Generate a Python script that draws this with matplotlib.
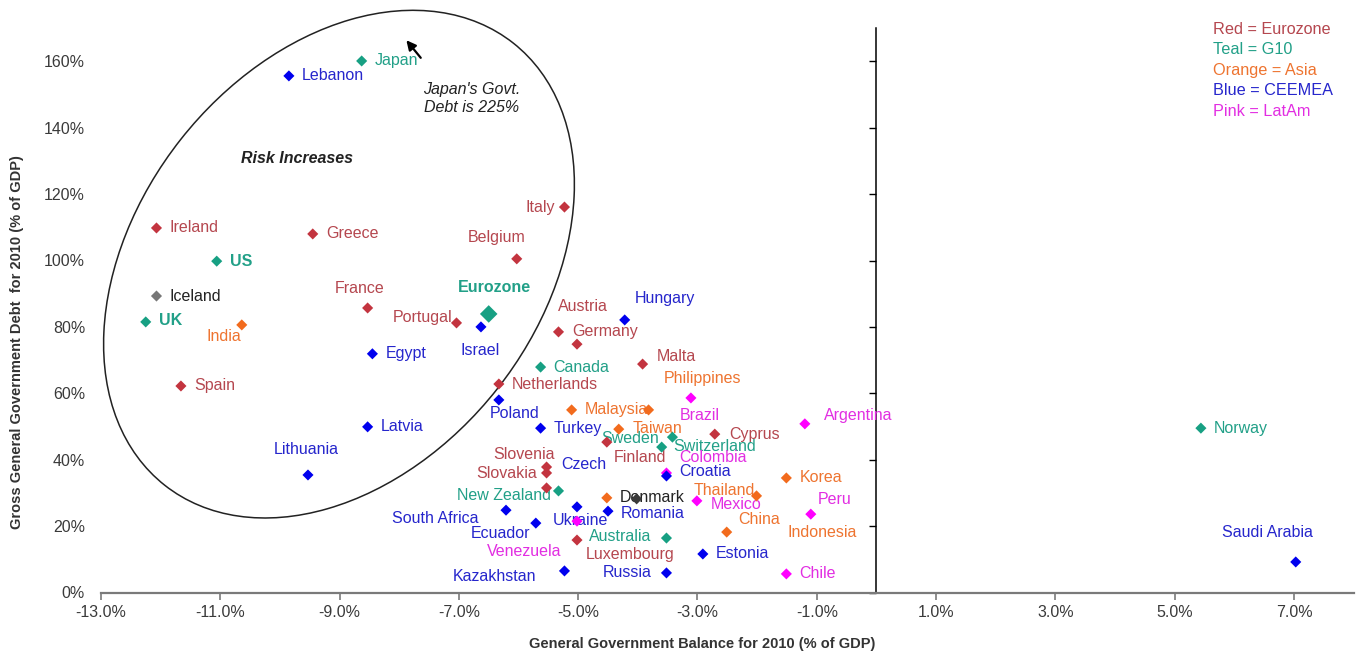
import matplotlib
matplotlib.use("Agg")
import matplotlib.pyplot as plt
from matplotlib.patches import Ellipse
from matplotlib.transforms import ScaledTranslation
import numpy as np

plt.rcParams['font.family'] = ['Liberation Sans', 'DejaVu Sans']

# ---- data ----
countries = ['Japan', 'Lebanon', 'Ireland', 'Greece', 'US', 'Iceland', 'UK', 'India',
             'France', 'Portugal', 'Eurozone', 'Israel', 'Egypt', 'Spain', 'Latvia',
             'Lithuania', 'Italy', 'Belgium', 'Hungary', 'Germany', 'Austria', 'Malta',
             'Canada', 'Netherlands', 'Poland', 'Philippines', 'Malaysia', 'Brazil',
             'Turkey', 'Taiwan', 'Argentina', 'Norway', 'Cyprus', 'Sweden', 'Switzerland',
             'Finland', 'Colombia', 'Croatia', 'Slovenia', 'Slovakia', 'Czech',
             'New Zealand', 'Denmark', 'Indonesia', 'Thailand', 'Korea', 'Peru', 'Mexico',
             'China', 'Romania', 'Ukraine', 'Venezuela', 'South Africa', 'Ecuador',
             'Luxembourg', 'Australia', 'Estonia', 'Russia', 'Kazakhstan', 'Chile',
             'Saudi Arabia']

balance = [-8.63, -9.85, -12.07, -9.45, -11.06, -12.07, -12.25, -10.64,
           -8.53, -7.04, -6.50, -6.63, -8.45, -11.66, -8.53,
           -9.53, -5.23, -6.03, -4.22, -5.33, -5.02, -3.92,
           -5.63, -6.33, -6.33, -3.82, -5.11, -3.11,
           -5.63, -4.32, -1.20, 5.44, -2.71, -3.42, -3.60,
           -4.52, -3.52, -3.52, -5.53, -5.53, -5.53,
           -5.33, -4.02, -4.52, -2.01, -1.51, -1.10, -3.01,
           -2.51, -4.50, -5.02, -5.02, -6.21, -5.71,
           -5.02, -3.52, -2.91, -3.52, -5.23, -1.51,
           7.03]

debt = [160.1, 155.6, 109.8, 108.0, 99.8, 89.3, 81.5, 80.6,
        85.7, 81.2, 83.9, 80.0, 71.9, 62.2, 49.9,
        35.4, 116.1, 100.5, 82.1, 78.5, 74.8, 68.8,
        67.9, 62.8, 58.0, 55.0, 55.0, 58.6,
        49.5, 49.2, 50.8, 49.5, 47.7, 46.8, 43.8,
        45.3, 36.0, 35.1, 37.8, 36.0, 31.5,
        30.6, 28.2, 28.5, 29.1, 34.5, 23.6, 27.6,
        18.2, 24.5, 25.8, 21.5, 24.8, 20.9,
        15.8, 16.4, 11.6, 5.9, 6.5, 5.6,
        9.2]

group = ['G10', 'CEEMEA', 'Eurozone', 'Eurozone', 'G10', 'Other', 'G10', 'Asia',
         'Eurozone', 'Eurozone', 'G10', 'CEEMEA', 'CEEMEA', 'Eurozone', 'CEEMEA',
         'CEEMEA', 'Eurozone', 'Eurozone', 'CEEMEA', 'Eurozone', 'Eurozone', 'Eurozone',
         'G10', 'Eurozone', 'CEEMEA', 'Asia', 'Asia', 'LatAm',
         'CEEMEA', 'Asia', 'LatAm', 'G10', 'Eurozone', 'G10', 'G10',
         'Eurozone', 'LatAm', 'CEEMEA', 'Eurozone', 'Eurozone', 'CEEMEA',
         'G10', 'Other', 'Asia', 'Asia', 'Asia', 'LatAm', 'LatAm',
         'Asia', 'CEEMEA', 'CEEMEA', 'LatAm', 'CEEMEA', 'CEEMEA',
         'Eurozone', 'G10', 'CEEMEA', 'CEEMEA', 'CEEMEA', 'LatAm',
         'CEEMEA']

legend_lines = ['Red = Eurozone', 'Teal = G10', 'Orange = Asia', 'Blue = CEEMEA', 'Pink = LatAm']
legend_groups = ['Eurozone', 'G10', 'Asia', 'CEEMEA', 'LatAm']

yticks = list(range(0, 161, 20))
xticks = list(range(-13, 8, 2))

# ---- styles ----
marker_col = {'Eurozone': '#C3343F', 'G10': '#17A083', 'Asia': '#F26B1D',
              'CEEMEA': '#0000EE', 'LatAm': '#FF00FF', 'Other': '#777777'}
label_col = {'Eurozone': '#B5474F', 'G10': '#22A088', 'Asia': '#EE7430',
             'CEEMEA': '#2626CC', 'LatAm': '#E22EE2', 'Other': '#222222'}
marker_override = {'Czech': '#C3343F', 'Denmark': '#3A3A3A'}
bold_labels = ['US', 'UK', 'Eurozone']

# label placement: offset in pixels (right, up) and horizontal alignment
label_place = {
    'Japan': (13, 0, 'left'), 'Lebanon': (13, 0, 'left'), 'Ireland': (13, 0, 'left'),
    'Greece': (14, 0, 'left'), 'US': (13, 0, 'left'), 'Iceland': (13, 0, 'left'),
    'UK': (13, 1, 'left'), 'India': (-18, -12, 'center'), 'France': (-8, 19, 'center'),
    'Portugal': (-4, 5, 'right'), 'Eurozone': (6, 26, 'center'), 'Israel': (-1, -24, 'center'),
    'Egypt': (13, 0, 'left'), 'Spain': (13, 0, 'left'), 'Latvia': (13, 0, 'left'),
    'Lithuania': (-2, 25, 'center'), 'Italy': (-9, 0, 'right'), 'Belgium': (-20, 21, 'center'),
    'Hungary': (40, 21, 'center'), 'Germany': (14, 0, 'left'), 'Austria': (6, 38, 'center'),
    'Malta': (14, 8, 'left'), 'Canada': (13, 0, 'left'), 'Netherlands': (13, 0, 'left'),
    'Poland': (16, -14, 'center'), 'Philippines': (54, 31, 'center'), 'Malaysia': (13, 0, 'left'),
    'Brazil': (9, -18, 'center'), 'Turkey': (13, 0, 'left'), 'Taiwan': (14, 1, 'left'),
    'Argentina': (19, 8, 'left'), 'Norway': (13, 0, 'left'), 'Cyprus': (14, 0, 'left'),
    'Sweden': (-13, -1, 'right'), 'Switzerland': (12, 1, 'left'), 'Finland': (7, -15, 'left'),
    'Colombia': (13, 15, 'left'), 'Croatia': (13, 4, 'left'), 'Slovenia': (-23, 13, 'center'),
    'Slovakia': (-10, -1, 'right'), 'Czech': (15, 23, 'left'), 'New Zealand': (-7, -5, 'right'),
    'Denmark': (-17, 1, 'left'), 'Indonesia': (181, -35, 'left'), 'Thailand': (-2, 5, 'right'),
    'Korea': (13, 0, 'left'), 'Peru': (7, 15, 'left'), 'Mexico': (14, -4, 'left'),
    'China': (12, 13, 'left'), 'Romania': (13, -2, 'left'), 'Ukraine': (3, -14, 'center'),
    'Venezuela': (-16, -30, 'right'), 'South Africa': (-28, -8, 'right'),
    'Ecuador': (-6, -10, 'right'), 'Luxembourg': (9, -14, 'left'),
    'Australia': (-15, 2, 'right'), 'Estonia': (13, 0, 'left'), 'Russia': (-15, 0, 'right'),
    'Kazakhstan': (-28, -6, 'right'), 'Chile': (13, 0, 'left'), 'Saudi Arabia': (-28, 29, 'center'),
}

W, H = 1362, 655
fig = plt.figure(figsize=(W / 100, H / 100), dpi=100)
ax = fig.add_axes([101 / W, (H - 592.5) / H, 1252.6 / W, 564.4 / H])
ax.set_xlim(-13, 8)
ax.set_ylim(0, 170)

for s in ['top', 'right', 'left']:
    ax.spines[s].set_visible(False)
ax.spines['bottom'].set_color('#7a7a7a')
ax.spines['bottom'].set_linewidth(1.6)

ax.set_xticks(xticks)
ax.set_xticklabels(['%.1f%%' % v for v in xticks])
ax.set_yticks(yticks)
ax.set_yticklabels(['%d%%' % v for v in yticks])
ax.tick_params(axis='x', direction='out', length=5, width=1.2, color='#7a7a7a',
               labelsize=11.5, labelcolor='#3a3a3a', pad=4)
ax.tick_params(axis='y', length=0, pad=11.5, labelsize=11.5, labelcolor='#3a3a3a')

# vertical axis line at x = 0 with its tick marks
sec = ax.secondary_yaxis(13 / 21)
sec.set_yticks(yticks)
sec.tick_params(axis='y', direction='in', length=5, width=1, color='black',
                labelright=False, labelleft=False)
sec.spines['right'].set_color('black')
sec.spines['right'].set_linewidth(1.1)

ax.set_xlabel('General Government Balance for 2010 (% of GDP)', fontsize=10.5,
              fontweight='bold', color='#333333')
ax.xaxis.set_label_coords(0.48, -0.079)
ax.set_ylabel('Gross General Government Debt  for 2010 (% of GDP)', fontsize=10.5,
              fontweight='bold', color='#333333')
ax.yaxis.set_label_coords(-0.0615, 0.443)

# markers
mcols = [marker_override.get(c, marker_col[g]) for c, g in zip(countries, group)]
sizes = [80 if c == 'Eurozone' else 32 for c in countries]
ax.scatter(balance, debt, s=sizes, c=mcols, marker='D', linewidths=0, zorder=3,
           clip_on=False)

# labels
for c, g, x, y in zip(countries, group, balance, debt):
    dx, dy, ha = label_place[c]
    ax.annotate(c, (x, y), xytext=(dx, dy), textcoords='offset pixels', ha=ha,
                va='center', fontsize=11.5, color=label_col[g],
                fontweight='bold' if c in bold_labels else 'normal', zorder=2)

# risk ellipse
tr = fig.dpi_scale_trans + ScaledTranslation(-9.01, 98.9, ax.transData)
ell = Ellipse((0, 0), 5.63, 4.03, angle=51.75, transform=tr, fill=False,
              edgecolor='#222222', linewidth=1.1, clip_on=False)
ax.add_patch(ell)

ax.text(-9.71, 130.6, 'Risk Increases', fontsize=11.5, fontweight='bold',
        fontstyle='italic', ha='center', va='center', color='#222222')
ax.text(-6.78, 148.9, "Japan's Govt.\nDebt is 225%", fontsize=11.5, fontstyle='italic',
        ha='center', va='center', color='#222222', linespacing=1.25)
ax.annotate('', xy=(-7.91, 167.0), xytext=(-7.61, 160.4),
            arrowprops=dict(arrowstyle='-|>', color='black', lw=1.6, mutation_scale=14),
            annotation_clip=False)

# colour key, top right
for i, (txt, g) in enumerate(zip(legend_lines, legend_groups)):
    fig.text(1213 / W, 1 - (29 + 20.5 * i) / H, txt, fontsize=11.7, color=label_col[g],
             ha='left', va='center')

fig.savefig('out.png', dpi=100)
